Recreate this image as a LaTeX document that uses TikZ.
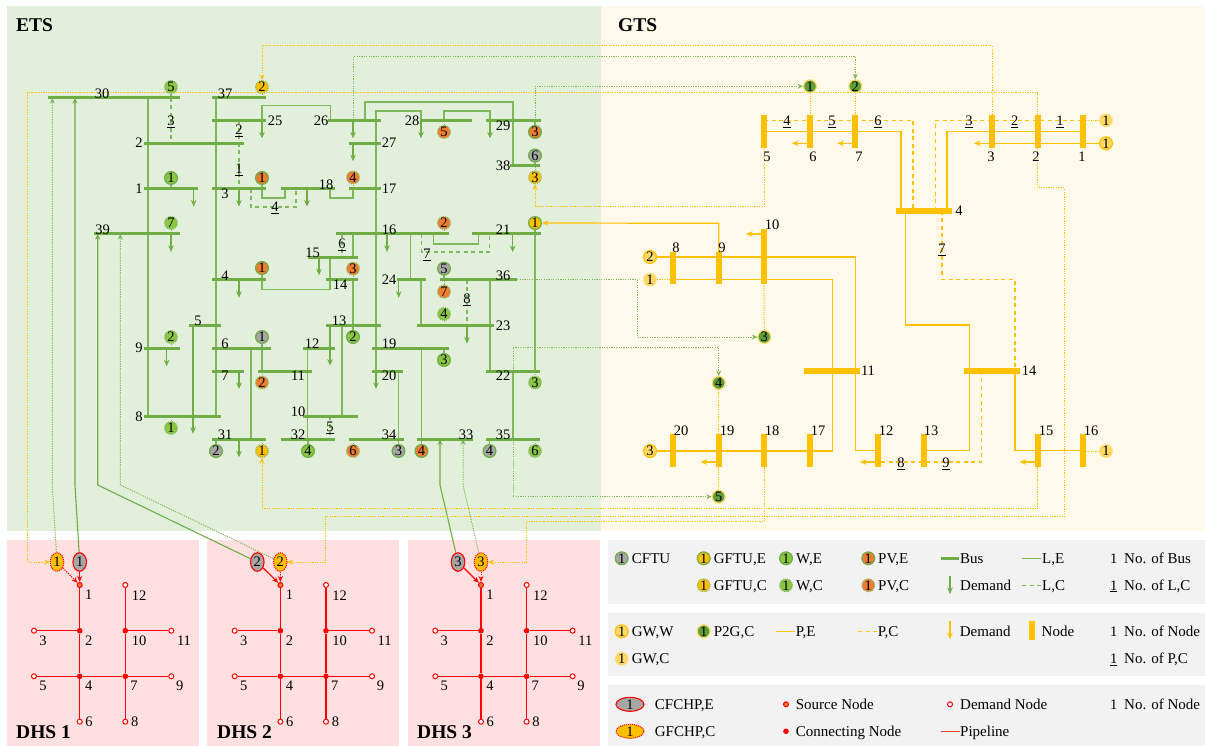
\documentclass[tikz,border=0pt]{standalone}
\usepackage{fontspec}
\setmainfont{Liberation Serif}
\usetikzlibrary{arrows.meta,shapes.geometric}
\pgfdeclarelayer{bg}\pgfdeclarelayer{conn}\pgfsetlayers{bg,conn,main}
\definecolor{cBus}{HTML}{70AD47}
\definecolor{cLine}{HTML}{7FB85C}
\definecolor{cGas}{HTML}{FFC000}
\definecolor{cGasL}{HTML}{FFD966}
\definecolor{cW}{HTML}{8AC544}
\definecolor{cPV}{HTML}{ED7D31}
\definecolor{cCF}{HTML}{A6A6A6}
\definecolor{cP2G}{HTML}{5F9E3A}
\definecolor{cETS}{HTML}{E2EFDA}
\definecolor{cGTS}{HTML}{FFF9EB}
\definecolor{cDHS}{HTML}{FFDFDF}
\definecolor{cLeg}{HTML}{F2F2F2}
\newcount\zc
\newcommand\zNext{\global\advance\zc by 1 }
\newcommand\zDig[1]{\raisebox{-.33em}[0pt][0pt]{#1}}
\newcommand\zLab[3]{\zNext\node[numlab] (t\the\zc) at (#1,#2) {\zDig{#3}};}
\newcommand\zUL[3]{\zNext\node[numlab] (t\the\zc) at (#1,#2) {\zDig{\underline{#3}}};}
\newcommand\zTxt[3]{\zNext\node[txtlab] (t\the\zc) at (#1,{#2+5}) {#3};}
\newcommand\zCirc[6]{\node[circ,fill=#4,#5] (#1) at (#2,#3) {\zDig{#6}};}
\newcommand\zBus[4]{\node[busnode,minimum width={#3pt-#2pt}] (#1) at ({(#2+#3)/2},#4) {};}
\newcommand\zBarV[4]{\node[gasnode,minimum width=6pt,minimum height={#4pt-#3pt}] (#1) at (#2,{(#3+#4)/2}) {};}
\newcommand\zBarH[4]{\node[gasnode,minimum height=6pt,minimum width={#3pt-#2pt}] (#1) at ({(#2+#3)/2},#4) {};}
\newcommand\zV[4][lE]{\draw[#1] (#2,0 |- #3) -- (#2,0 |- #4);}
\newcommand\zTick[3][lE]{\draw[#1] (#2.center) -- (#2 |- #3);}
\newcommand\zDem[4][demE]{\zNext\path (#3,0 |- #2) ++(0,#4) coordinate (dm\the\zc); \draw[#1] (#3,0 |- #2) -- (dm\the\zc);}
\newcommand\zGD[2]{\zNext\path (#1 |- 0,#2) ++(-18,0) coordinate (dm\the\zc); \draw[demG] (#1 |- 0,#2) -- (dm\the\zc);}
\tikzset{
 numlab/.style={inner sep=0pt,font=\fontsize{14.5}{16}\selectfont},
 txtlab/.style={inner sep=0pt,anchor=base west,font=\fontsize{15}{17}\selectfont},
 headlab/.style={inner sep=0pt,anchor=base west,font=\fontsize{19.5}{21}\selectfont\bfseries},
 circ/.style={circle,inner sep=0pt,minimum size=12.8pt,line width=1.2pt,font=\fontsize{14.5}{16}\selectfont},
 cs/.style={draw=cBus},
 cd/.style={draw=cBus!80,dash pattern=on 1pt off 1pt},
 gsW/.style={draw=cGas},
 gsC/.style={draw=cGasL,dash pattern=on 1pt off 1pt},
 pg/.style={draw=cGasL},
 busnode/.style={rectangle,fill=cBus,inner sep=0pt,minimum height=3pt},
 gasnode/.style={rectangle,fill=cGas,inner sep=0pt},
 lE/.style={draw=cLine,line width=1.2pt},
 lC/.style={draw=cLine,line width=1.2pt,dash pattern=on 4pt off 3.5pt},
 lD/.style={draw=cLine,line width=1pt,dash pattern=on 1.2pt off 1.2pt,-{Stealth[length=5.5pt,width=5pt]}},
 lDn/.style={draw=cLine,line width=1pt,dash pattern=on 1.2pt off 1.2pt},
 chpL/.style={draw=cBus,line width=1.1pt,-{Stealth[length=5.5pt,width=5pt]}},
 demE/.style={draw=cBus,line width=1.1pt,-{Stealth[length=6.5pt,width=5.5pt]}},
 demG/.style={draw=cGas,line width=1.1pt,-{Stealth[length=6.5pt,width=5.5pt]}},
 pE/.style={draw=cGas,line width=1.2pt},
 pC/.style={draw=cGas,line width=1.2pt,dash pattern=on 4pt off 3.5pt},
 yD/.style={draw=cGas,line width=1pt,dash pattern=on 1.2pt off 1.2pt,-{Stealth[length=5.5pt,width=5pt]}},
 yDn/.style={draw=cGas,line width=1pt,dash pattern=on 1.2pt off 1.2pt},
 pipe/.style={draw=red,line width=1.2pt},
 srcN/.style={circle,draw=red,fill=cPV,line width=1pt,inner sep=0pt,minimum size=5pt},
 conN/.style={circle,fill=red,inner sep=0pt,minimum size=5.6pt},
 demN/.style={circle,draw=red,fill=white,line width=1pt,inner sep=0pt,minimum size=5pt},
 chpC/.style={ellipse,draw=red,fill=cCF,line width=1.1pt,inner sep=0pt,minimum width=13.5pt,minimum height=18.5pt,font=\fontsize{14.5}{16}\selectfont},
 chpG/.style={ellipse,draw=red,fill=cGas,line width=1.1pt,dash pattern=on 1pt off 1pt,inner sep=0pt,minimum width=13.5pt,minimum height=18.5pt,font=\fontsize{14.5}{16}\selectfont},
 hArrow/.style={-{Stealth[length=6pt,width=5pt]}}
}
\newcommand\zDHS[2]{%
 \begin{scope}[xshift=#2pt]
 \node[srcN] (d#1-1) at (79.7,585) {};
 \node[conN] (d#1-2) at (79.7,630.7) {};
 \node[demN] (d#1-3) at (34,630.7) {};
 \node[conN] (d#1-4) at (79.7,676.3) {};
 \node[demN] (d#1-5) at (34,676.3) {};
 \node[demN] (d#1-6) at (79.7,721.7) {};
 \node[conN] (d#1-7) at (125.3,676.3) {};
 \node[demN] (d#1-8) at (125.3,721.7) {};
 \node[demN] (d#1-9) at (171.3,676.3) {};
 \node[conN] (d#1-10) at (125.3,630.7) {};
 \node[demN] (d#1-11) at (171.3,630.7) {};
 \node[demN] (d#1-12) at (125.3,585) {};
 \zLab{88.7}{595}{1}\zLab{139}{595.5}{12}\zLab{43}{641}{3}\zLab{88.7}{641}{2}\zLab{139}{641}{10}\zLab{184}{641}{11}
 \zLab{43}{686}{5}\zLab{88.7}{686}{4}\zLab{134}{686}{7}\zLab{179.7}{686}{9}\zLab{89}{722}{6}\zLab{134.7}{722}{8}
 \begin{pgfonlayer}{conn}
 \draw[pipe] (d#1-1)--(d#1-2); \draw[pipe] (d#1-2)--(d#1-3); \draw[pipe] (d#1-2)--(d#1-4);
 \draw[pipe] (d#1-4)--(d#1-5); \draw[pipe] (d#1-4)--(d#1-6); \draw[pipe] (d#1-4)--(d#1-7);
 \draw[pipe] (d#1-7)--(d#1-8); \draw[pipe] (d#1-7)--(d#1-9); \draw[pipe] (d#1-7)--(d#1-10);
 \draw[pipe] (d#1-10)--(d#1-11); \draw[pipe] (d#1-10)--(d#1-12);
 \end{pgfonlayer}
 \end{scope}}
\begin{document}
\begin{tikzpicture}[x=1pt,y=-1pt]
\useasboundingbox (0,0) rectangle (1205,746);
\begin{pgfonlayer}{bg}
\fill[cETS] (7,6) rectangle (601,531);
\fill[cGTS] (601,6) rectangle (1205,531);
\fill[cDHS] (7,540) rectangle (199,746);
\fill[cDHS] (207,540) rectangle (399,746);
\fill[cDHS] (408,540) rectangle (600,746);
\fill[cLeg] (608,540) rectangle (1205,604);
\fill[cLeg] (608,613) rectangle (1205,676);
\fill[cLeg] (608,685) rectangle (1205,746);
\end{pgfonlayer}
\node[headlab] (hE) at (16,32) {ETS};
\node[headlab] (hG) at (618,32) {GTS};
\node[headlab] (hD1) at (16,738) {DHS 1};
\node[headlab] (hD2) at (217,738) {DHS 2};
\node[headlab] (hD3) at (417,738) {DHS 3};
% ETS buses
\zBus{e30}{48}{180}{98}\zBus{e37}{212}{266}{98}\zBus{e25}{212}{266}{120.4}\zBus{e2}{144}{244}{143.2}
\zBus{e1}{144}{198}{188.6}\zBus{e3}{212}{266}{188.6}\zBus{e18}{281}{335}{188.6}\zBus{e17}{349}{381}{188.6}
\zBus{e39}{94}{180}{234}\zBus{e26}{328}{381}{120.4}\zBus{e27}{349}{381}{143.2}\zBus{e28}{420}{472}{120.4}
\zBus{e29}{486}{541}{120.4}\zBus{e38}{510}{540}{166}\zBus{e16}{336}{449}{234}\zBus{e21}{472}{541}{234}
\zBus{e15}{308}{358}{257.3}\zBus{e14}{326}{358}{279.7}\zBus{e24}{397}{426}{279.7}\zBus{e36}{440}{517}{279.7}
\zBus{e4}{212}{266}{279.7}\zBus{e5}{189}{221}{325.7}\zBus{e13}{326}{381}{325.7}\zBus{e23}{417}{494}{325.7}
\zBus{e9}{144}{180}{348.3}\zBus{e6}{212}{271}{348.3}\zBus{e12}{303}{335}{348.3}\zBus{e19}{372}{449}{348.3}
\zBus{e7}{212}{244}{371}\zBus{e11}{258}{312}{371}\zBus{e20}{372}{403}{371}\zBus{e22}{486}{540}{371}
\zBus{e8}{144}{221}{416.3}\zBus{e10}{303}{358}{416.3}\zBus{e31}{212}{266}{439.3}\zBus{e32}{281}{335}{439.3}
\zBus{e34}{349}{404}{439.3}\zBus{e33}{417}{473}{439.3}\zBus{e35}{486}{540}{439.3}
% ETS bus labels
\zLab{102}{94}{30}\zLab{225}{94}{37}\zLab{275}{121}{25}\zLab{139}{143}{2}\zLab{139}{189}{1}\zLab{225}{194}{3}
\zLab{102.7}{230}{39}\zLab{321}{121}{26}\zLab{389}{143}{27}\zLab{412}{121}{28}\zLab{503}{125.7}{29}\zLab{503}{166}{38}
\zLab{326}{185}{18}\zLab{389}{189}{17}\zLab{389}{230}{16}\zLab{503}{230}{21}\zLab{312.7}{253}{15}\zLab{340}{285}{14}
\zLab{389}{280}{24}\zLab{503}{276}{36}\zLab{225}{276}{4}\zLab{198}{321}{5}\zLab{339}{321}{13}\zLab{503}{326}{23}
\zLab{139}{348}{9}\zLab{225}{344}{6}\zLab{312}{344}{12}\zLab{389}{344}{19}\zLab{225}{376}{7}\zLab{298}{376}{11}
\zLab{389}{376}{20}\zLab{503}{376}{22}\zLab{139}{417}{8}\zLab{298}{412}{10}\zLab{225}{435}{31}\zLab{298}{435}{32}
\zLab{389}{435}{34}\zLab{466}{435}{33}\zLab{503}{435}{35}
% ETS L,C labels
\zUL{171}{121}{3}\zUL{239}{130}{2}\zUL{239}{169}{1}\zUL{275}{207}{4}\zUL{330}{427}{5}\zUL{342}{244}{6}\zUL{427}{254}{7}\zUL{467}{299}{8}
% ETS units
\zCirc{c30}{171}{87}{cW}{cd}{5}
\zCirc{c37}{262}{87}{cGas}{cd}{2}
\zCirc{c1}{171}{178}{cW}{cs}{1}
\zCirc{c3}{262}{178}{cPV}{cs}{1}
\zCirc{c39}{171}{223}{cW}{cd}{7}
\zCirc{c17}{353}{177.5}{cPV}{cd}{4}
\zCirc{c28}{444}{132}{cPV}{cd}{5}
\zCirc{c29}{535}{132}{cPV}{cs}{3}
\zCirc{c38a}{535}{155.5}{cCF}{cs}{6}
\zCirc{c38b}{535}{177.3}{cGas}{cd}{3}
\zCirc{c21a}{535}{223}{cGas}{cs}{1}
\zCirc{c16}{444}{223}{cPV}{cd}{2}
\zCirc{c36a}{444}{268.7}{cCF}{cs}{5}
\zCirc{c36b}{444}{291.7}{cPV}{cd}{7}
\zCirc{c23}{444}{314}{cW}{cd}{4}
\zCirc{c14}{353}{268.7}{cPV}{cd}{3}
\zCirc{c4}{262}{268}{cPV}{cs}{1}
\zCirc{c9}{171}{337}{cW}{cd}{2}
\zCirc{c8}{171}{428}{cW}{cd}{1}
\zCirc{c6}{262}{337}{cCF}{cs}{1}
\zCirc{c11}{262}{382.5}{cPV}{cd}{2}
\zCirc{c13}{353}{337}{cW}{cs}{2}
\zCirc{c19}{444}{360}{cW}{cs}{3}
\zCirc{c22}{535}{382.5}{cW}{cd}{3}
\zCirc{c31a}{216}{451}{cCF}{cs}{2}
\zCirc{c31b}{262}{451}{cGas}{cd}{1}
\zCirc{c32}{308}{451}{cW}{cs}{4}
\zCirc{c34a}{353}{451}{cPV}{cd}{6}
\zCirc{c34b}{398.5}{451}{cCF}{cs}{3}
\zCirc{c33}{421.5}{451}{cPV}{cs}{4}
\zCirc{c35a}{489.5}{451}{cCF}{cs}{4}
\zCirc{c35b}{535}{451}{cW}{cd}{6}
% Gas bars
\zBarV{g5}{764}{115}{148}\zBarV{g6}{810}{115}{148}\zBarV{g7}{855.3}{115}{148}
\zBarV{g3}{992}{115}{148}\zBarV{g2}{1037.7}{115}{148}\zBarV{g1}{1083}{115}{148}
\zBarH{g4}{896}{952}{211}\zBarV{g10}{764}{229}{284}\zBarV{g8}{673}{252}{284}\zBarV{g9}{718.7}{252}{284}
\zBarH{g11}{804}{860}{370.7}\zBarH{g14}{964}{1020}{370.7}
\zBarV{g20}{673}{434}{467}\zBarV{g19}{718.7}{434}{467}\zBarV{g18}{764}{434}{467}\zBarV{g17}{810}{434}{467}
\zBarV{g12}{878}{434}{467}\zBarV{g13}{923.7}{434}{467}\zBarV{g15}{1037.7}{434}{467}\zBarV{g16}{1083}{434}{467}
\zLab{767}{157}{5}\zLab{813}{157}{6}\zLab{859}{157}{7}\zLab{991}{157}{3}\zLab{1036}{157}{2}\zLab{1082}{157}{1}
\zLab{959}{211}{4}\zLab{772}{225}{10}\zLab{676}{248}{8}\zLab{722}{248}{9}\zLab{868}{371}{11}\zLab{1029}{371}{14}
\zLab{681}{431}{20}\zLab{727}{431}{19}\zLab{772}{431}{18}\zLab{818}{431}{17}\zLab{886}{431}{12}\zLab{931}{431}{13}\zLab{1046}{431}{15}\zLab{1091}{431}{16}
\zUL{787}{121}{4}\zUL{832}{121}{5}\zUL{878}{121}{6}\zUL{969}{121}{3}\zUL{1014.7}{121}{2}\zUL{1060}{121}{1}\zUL{942}{249}{7}\zUL{901}{463}{8}\zUL{946}{463}{9}
% Gas units
\zCirc{gw2}{650}{257}{cGasL}{gsW}{2}
\zCirc{gw1c}{650}{279.7}{cGasL}{gsC}{1}
\zCirc{gw3}{650}{451}{cGasL}{gsW}{3}
\zCirc{gw16}{1106}{451}{cGasL}{gsC}{1}
\zCirc{gwa}{1106}{120.3}{cGasL}{gsC}{1}
\zCirc{gwb}{1106}{143.3}{cGasL}{gsW}{1}
\zCirc{p1}{810}{86.3}{cP2G}{pg}{1}
\zCirc{p2}{855.3}{86.3}{cP2G}{pg}{2}
\zCirc{p3}{764.3}{337}{cP2G}{pg}{3}
\zCirc{p4}{718.7}{383}{cP2G}{pg}{4}
\zCirc{p5}{718.7}{496.7}{cP2G}{pg}{5}
% DHS
\zDHS{1}{0}\zDHS{2}{200.7}\zDHS{3}{401.3}
\node[chpG] (hg1) at (57,562) {\zDig{1}};
\node[chpC] (hc1) at (79.7,562) {\zDig{1}};
\node[chpC] (hc2) at (257.3,562) {\zDig{2}};
\node[chpG] (hg2) at (280.3,562) {\zDig{2}};
\node[chpC] (hc3) at (458,562) {\zDig{3}};
\node[chpG] (hg3) at (481,562) {\zDig{3}};
% Legend row 1
\zCirc{k1}{621.7}{558.3}{cCF}{cs}{1}\zTxt{631.7}{558.3}{CFTU}
\zCirc{k2}{703.7}{558.3}{cGas}{cs}{1}\zTxt{713.7}{558.3}{GFTU,E}
\zCirc{k3}{703.7}{585.3}{cGas}{cd}{1}\zTxt{713.7}{585.3}{GFTU,C}
\zCirc{k4}{786}{558.3}{cW}{cs}{1}\zTxt{796}{558.3}{W,E}
\zCirc{k5}{786}{585.3}{cW}{cd}{1}\zTxt{796}{585.3}{W,C}
\zCirc{k6}{868.3}{558.3}{cPV}{cs}{1}\zTxt{878}{558.3}{PV,E}
\zCirc{k7}{868.3}{585.3}{cPV}{cd}{1}\zTxt{878}{585.3}{PV,C}
\zBus{kb}{941}{959.3}{558.3}\zTxt{960}{558.3}{Bus}
\zTxt{960}{585.3}{Demand}
\zTxt{1042}{558.3}{L,E}
\zTxt{1042}{585.3}{L,C}
\zLab{1113.7}{558.3}{1}\zTxt{1124}{558.3}{No. of Bus}
\zUL{1113.7}{585.3}{1}\zTxt{1124}{585.3}{No. of L,C}
% Legend row 2
\zCirc{k8}{621.7}{631.3}{cGasL}{gsW}{1}\zTxt{631.7}{631.3}{GW,W}
\zCirc{k9}{621.7}{658.7}{cGasL}{gsC}{1}\zTxt{631.7}{658.7}{GW,C}
\zCirc{k10}{703.7}{631.3}{cP2G}{pg}{1}\zTxt{713.7}{631.3}{P2G,C}
\zTxt{795.7}{631.3}{P,E}
\zTxt{877.7}{631.3}{P,C}
\zTxt{959.7}{631.3}{Demand}
\zBarV{kn}{1032.2}{621}{640}\zTxt{1041.5}{631.3}{Node}
\zLab{1113.7}{631.3}{1}\zTxt{1124}{631.3}{No. of Node}
\zUL{1113.7}{658.7}{1}\zTxt{1124}{658.7}{No. of P,C}
% Legend row 3
\node[chpC,minimum width=28pt,minimum height=14pt] (k11) at (630,704.3) {\zDig{1}};\zTxt{654.7}{704.3}{CFCHP,E}
\node[chpG,minimum width=28pt,minimum height=14pt] (k12) at (630,731.3) {\zDig{1}};\zTxt{654.7}{731.3}{GFCHP,C}
\node[srcN] (k13) at (786,704.3) {};\zTxt{795.7}{704.3}{Source Node}
\node[conN] (k14) at (786,731.3) {};\zTxt{795.7}{731.3}{Connecting Node}
\node[demN] (k15) at (950,704.3) {};\zTxt{960}{704.3}{Demand Node}
\zTxt{960}{731.3}{Pipeline}
\zLab{1113.7}{704.3}{1}\zTxt{1124}{704.3}{No. of Node}
% Connectors
\begin{pgfonlayer}{conn}
% Legend samples
\coordinate (kd1a) at (950,575.7);\coordinate (kd1b) at (950,594);
\draw[demE] (kd1a) -- (kd1b);
\coordinate (kl1a) at (1022.3,558.5);\coordinate (kl1b) at (1041,558.5);
\draw[lE,line width=1.6pt] (kl1a) -- (kl1b);
\coordinate (kl2a) at (1022.3,585.5);\coordinate (kl2b) at (1041,585.5);
\draw[lC,line width=1.6pt] (kl2a) -- (kl2b);
\coordinate (kp1a) at (776.3,631.5);\coordinate (kp1b) at (795,631.5);
\draw[pE,line width=1.6pt] (kp1a) -- (kp1b);
\coordinate (kp2a) at (858.3,631.5);\coordinate (kp2b) at (878,631.5);
\draw[pC,line width=1.6pt] (kp2a) -- (kp2b);
\coordinate (kd2a) at (950,621);\coordinate (kd2b) at (950,639.3);
\draw[demG] (kd2a) -- (kd2b);
\coordinate (kpa) at (940.7,731.5);\coordinate (kpb) at (959.7,731.5);
\draw[pipe,draw=red!75,line width=1.6pt] (kpa) -- (kpb);
% ETS solid lines
\zV{148}{e30}{e8}\zV{216}{e37}{e8}\zV{251}{e6}{e31}\zV{262}{e6}{e11}
\draw[lE] (262,0 |- e4) -- (262,289.3) -- (330,289.3) -- (330,0 |- e15);
\zV{353}{e16}{e15}\zV{353}{e14}{e13}
\draw[lE] (376,0 |- e20) -- (376,111) -- (421,111) -- (421,0 |- e28);
\draw[lE] (365,0 |- e26) -- (365,102) -- (513,102) -- (513,0 |- e38);
\draw[lE] (444,0 |- e28) -- (444,111) -- (490,111) -- (490,0 |- e29);
\draw[lE] (262,0 |- e25) -- (262,105.6) -- (330.7,105.6) -- (330.7,0 |- e26);
\draw[lE] (262,0 |- e3) -- (262,198) -- (285,198) -- (285,0 |- e18);
\draw[lE] (330,0 |- e18) -- (330,198) -- (353,198) -- (353,0 |- e17);
\zV{410.5}{e16}{e24}\zV{421}{e24}{e23}\zV{490}{e36}{e22}\zV{535}{e21}{e22}\zV{513}{e22}{e35}
\draw[lE] (433.7,0 |- e16) -- (433.7,244) -- (478.7,244) -- (478.7,0 |- e21);
\zV{342}{e13}{e10}\zV{307.7}{e12}{e32}\zV{398.7}{e20}{e34}\zV{421.7}{e19}{e33}
% ETS dashed lines
\zV[lC]{171}{e30}{e2}\zV[lC]{239}{e25}{e3}\zV[lC]{342}{e16}{e15}\zV[lC]{467}{e36}{e23}\zV[lC]{330}{e10}{e32}
\draw[lC] (251,0 |- e3) -- (251,207) -- (296,207) -- (296,0 |- e18);
\draw[lC] (421.7,0 |- e16) -- (421.7,252) -- (489.7,252) -- (489.7,0 |- e21);
% ETS demands
\zDem{e25}{262}{18}\zDem{e26}{353}{18}\zDem{e27}{353}{18}\zDem{e28}{421}{18}\zDem{e29}{490}{18}
\zDem{e18}{307}{18}\zDem{e1}{193.7}{18}\zDem{e3}{239}{18}\zDem{e39}{171}{18}\zDem{e5}{193}{108}
\zDem{e21}{512.7}{18}\zDem{e16}{387}{18}\zDem{e24}{398.7}{18}\zDem{e15}{319}{18}\zDem{e4}{239}{18}
\zDem{e23}{467}{18}\zDem{e13}{330}{40}\zDem{e9}{166.7}{18}\zDem{e7}{239}{18}\zDem{e31}{239}{18}\zDem{e20}{376}{18}
% ETS unit ticks
\zTick[lC]{c30}{e30}\zTick[lDn]{c37}{e37}\zTick{c1}{e1}\zTick{c3}{e3}\zTick[lDn]{c39}{e39}\zTick[lDn]{c17}{e17}
\zTick[lDn]{c28}{e28}\zTick{c29}{e29}\zTick{c38a}{e38}\zTick[lDn]{c38b}{e38}\zTick{c21a}{e21}\zTick[lDn]{c16}{e16}
\zTick{c36a}{e36}\zTick[lDn]{c36b}{e36}\zTick[lDn]{c23}{e23}\zTick[lDn]{c14}{e14}\zTick{c4}{e4}\zTick[lDn]{c9}{e9}
\zTick[lDn]{c8}{e8}\zTick{c6}{e6}\zTick[lDn]{c11}{e11}\zTick{c13}{e13}\zTick{c19}{e19}\zTick[lDn]{c22}{e22}
\zTick{c31a}{e31}\zTick[lDn]{c31b}{e31}\zTick{c32}{e32}\zTick[lDn]{c34a}{e34}\zTick{c34b}{e34}\zTick{c33}{e33}
\zTick{c35a}{e35}\zTick[lDn]{c35b}{e35}
% CHP to ETS
\draw[chpL] (hc1) -- (75,485) -- (75,0 |- e30);
\draw[lD] (hg1) -- (52.3,485) -- (52.3,0 |- e30);
\draw[chpL] (hc2) -- (97.7,485) -- (97.7,0 |- e39);
\draw[lD] (hg2) -- (120.3,485) -- (120.3,0 |- e39);
\draw[chpL] (hc3) -- (440,485) -- (440,0 |- e33);
\draw[lD] (hg3) -- (463,485) -- (463,0 |- e33);
% Gas to gas-fired units
\draw[yD] (g2.center) -- (1037.7,92.7) -- (27.7,92.7) -- (27.7,562) -- (hg1);
\draw[yD] (g3.center) -- (992,45.7) -- (262,45.7) -- (c37);
\draw[yD] (g5.center) -- (764,207) -- (535,207) -- (c38b);
\draw[yD] (g15.center) -- (1037.7,508.7) -- (262,508.7) -- (c31b);
\draw[yD] (g2.center) -- (1037.7,188) -- (1064,188) -- (1064,516.7) -- (325.3,516.7) -- (325.3,562) -- (hg2);
\draw[yD] (g18.center) -- (764,521.5) -- (526.5,521.5) -- (526.5,562) -- (hg3);
\draw[pE,hArrow] (g9.center) -- (718.7,223.3) -- (c21a);
% Electricity to P2G
\draw[lD] (535,0 |- e29) -- (535,86.3) -- (p1);
\draw[lD] (353,0 |- e26) -- (353,56.7) -- (855.3,56.7) -- (p2);
\draw[lD] (e36.east) -- (637,0 |- e36) -- (637,337) -- (p3);
\draw[lD] (513,0 |- e22) -- (513,347) -- (718.7,347) -- (p4);
\draw[lD] (513,0 |- e35) -- (513,496.7) -- (p5);
\draw[yDn] (p1) -- (g6);\draw[yDn] (p2) -- (g7);\draw[yDn] (p3) -- (g10);\draw[yDn] (p4) -- (g19);\draw[yDn] (p5) -- (g19);
% Gas pipelines
\draw[pE] (g5 |- 0,131.3) -- (901,131.3) -- (901,0 |- g4);
\draw[pE] (947,0 |- g4) -- (947,131.3) -- (g1 |- 0,131.3);
\draw[pC] (g5 |- 0,120.3) -- (913,120.3) -- (913,0 |- g4);
\draw[pC] (935.7,0 |- g4) -- (935.7,120.3) -- (g1 |- 0,120.3);
\draw[yDn] (gwa) -- (g1 |- gwa);
\draw[pE] (gwb) -- (g3 |- gwb);
\draw[pE] (905.7,0 |- g4) -- (905.7,325) -- (969.5,325) -- (969.5,450.7) -- (g13 |- 0,450.7);
\draw[pE] (1015,0 |- g14) -- (1015,450.7) -- (g16 |- 0,450.7);
\draw[pC] (942,0 |- g4) -- (942,279.5) -- (1015,279.5) -- (1015,0 |- g14);
\draw[pC] (981.3,0 |- g14) -- (981.3,462) -- (g12 |- 0,462);
\draw[pE] (gw2) -- (855.3,0 |- gw2) -- (855.3,450.7) -- (g12 |- 0,450.7);
\draw[pE] (gw3) -- (832.7,0 |- gw3) -- (832.7,279.7) -- (g8 |- 0,279.7);
\draw[yDn] (gw1c) -- (g8 |- gw1c);
\draw[yDn] (gw16) -- (g16 |- gw16);
\zGD{g6}{143.3}\zGD{g7}{143.3}\zGD{g3}{143.3}\zGD{g10}{234}\zGD{g19}{462}\zGD{g12}{462}\zGD{g15}{462}
% CHP to DHS
\draw[pipe,-{Stealth[length=6pt,width=5pt]}] (hc1) -- (d1-1);
\draw[pipe,line width=1pt,dash pattern=on 1.2pt off 1.2pt,-{Stealth[length=6pt,width=5pt]}] (hg1) -- (d1-1);
\draw[pipe,-{Stealth[length=6pt,width=5pt]}] (hc2) -- (d2-1);
\draw[pipe,line width=1pt,dash pattern=on 1.2pt off 1.2pt,-{Stealth[length=6pt,width=5pt]}] (hg2) -- (d2-1);
\draw[pipe,-{Stealth[length=6pt,width=5pt]}] (hc3) -- (d3-1);
\draw[pipe,line width=1pt,dash pattern=on 1.2pt off 1.2pt,-{Stealth[length=6pt,width=5pt]}] (hg3) -- (d3-1);
\end{pgfonlayer}
\end{tikzpicture}
\end{document}
